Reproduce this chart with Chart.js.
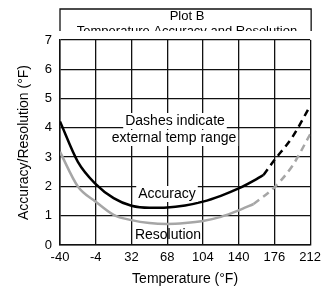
<!DOCTYPE html>
<html>
<head>
<meta charset="utf-8">
<script src="https://cdn.jsdelivr.net/npm/chart.js@4"></script>
<style>
  html, body { margin: 0; padding: 0; background: #fff; }
  canvas { display: block; }
</style>
</head>
<body>
<canvas id="chart" width="326" height="286"></canvas>
<script>
// valeurs
const accTemps = [-40, -22, -4, 14, 32, 50, 68, 86, 104, 122, 140, 158, 165];
const accValues = [4.22, 2.84, 2.08, 1.6, 1.34, 1.27, 1.28, 1.35, 1.48, 1.68, 1.93, 2.25, 2.39];
const accExtTemps = [165, 176, 194, 212];
const accExtValues = [2.39, 2.9, 3.68, 4.75];

const resTemps = [-40, -22, -4, 14, 32, 50, 68, 86, 104, 122, 140, 155];
const resValues = [3.18, 2.0, 1.48, 1.03, 0.85, 0.75, 0.72, 0.75, 0.82, 0.96, 1.18, 1.4];
const resExtTemps = [155, 176, 194, 212];
const resExtValues = [1.4, 1.97, 2.7, 3.78];

const xTicks = [-40, -4, 32, 68, 104, 140, 176, 212];

const FONT = "'Liberation Sans', Arial, sans-serif";
const pts = (xs, ys) => xs.map((x, i) => ({ x: x, y: ys[i] }));

function serie(xs, ys, color, dashed) {
    return {
        data: pts(xs, ys),
        borderColor: color,
        borderWidth: 2.5,
        borderDash: dashed ? [7, 5] : [],
        pointRadius: 0,
        tension: 0.4,
        cubicInterpolationMode: 'monotone',
        fill: false
    };
}

// titre encadré + annotations
const decor = {
    id: 'decor',
    afterDraw(chart) {
        const ctx = chart.ctx;
        const a = chart.chartArea;
        ctx.save();
        ctx.strokeStyle = '#111';
        ctx.lineWidth = 1.3;
        ctx.beginPath();
        ctx.moveTo(a.left, 31);
        ctx.lineTo(a.left, 9);
        ctx.lineTo(a.right + 1, 9);
        ctx.lineTo(a.right + 1, 31);
        ctx.stroke();

        ctx.fillStyle = '#000';
        ctx.textAlign = 'center';
        ctx.textBaseline = 'alphabetic';
        ctx.font = '13px ' + FONT;
        ctx.fillText('Plot B', 187, 20);
        ctx.save();
        ctx.beginPath();
        ctx.rect(0, 0, 326, 31);
        ctx.clip();
        ctx.fillText('Temperature Accuracy and Resolution', 187, 34.5);
        ctx.restore();

        ctx.font = '14px ' + FONT;
        const labels = [
            ['Dashes indicate', 175, 121, true],
            ['external temp range', 174, 138, true],
            ['Accuracy', 167, 194, true],
            ['Resolution', 168, 235, false]
        ];
        ctx.textBaseline = 'middle';
        labels.forEach(([txt, x, y, bg]) => {
            const w = ctx.measureText(txt).width;
            if (bg) {
                ctx.fillStyle = '#fff';
                ctx.fillRect(x - w / 2 - 2, y - 8, w + 4, 16);
            }
            ctx.fillStyle = '#000';
            ctx.fillText(txt, x, y);
        });
        ctx.restore();
    }
};

new Chart(document.getElementById('chart'), {
    type: 'line',
    data: {
        datasets: [
            serie(accTemps, accValues, '#000', false),
            serie(accExtTemps, accExtValues, '#000', true),
            serie(resTemps, resValues, '#a6a6a6', false),
            serie(resExtTemps, resExtValues, '#a6a6a6', true)
        ]
    },
    options: {
        responsive: false,
        animation: false,
        layout: { padding: { top: 40, right: 13, left: 0, bottom: 0 } },
        plugins: { legend: { display: false }, tooltip: { enabled: false } },
        scales: {
            x: {
                type: 'linear',
                min: -40,
                max: 212,
                afterBuildTicks: s => { s.ticks = xTicks.map(v => ({ value: v })); },
                afterFit: s => { s.height = 41; },
                grid: { color: '#111', lineWidth: 1.3, drawTicks: false },
                border: { color: '#111', width: 1.5 },
                ticks: { color: '#000', font: { family: FONT, size: 13 }, padding: 5, maxRotation: 0 },
                title: { display: true, text: 'Temperature (°F)', color: '#000',
                         font: { family: FONT, size: 14 }, padding: { top: 0, bottom: -2 } }
            },
            y: {
                min: 0,
                max: 7,
                afterFit: s => { s.width = 60; },
                grid: { color: '#111', lineWidth: 1.3, drawTicks: false },
                border: { color: '#111', width: 1.5 },
                ticks: { stepSize: 1, color: '#000', font: { family: FONT, size: 13 }, padding: 8 },
                title: { display: true, text: 'Accuracy/Resolution (°F)', color: '#000',
                         font: { family: FONT, size: 14 }, padding: { top: 16, bottom: 0 } }
            }
        }
    },
    plugins: [decor]
});
</script>
</body>
</html>
